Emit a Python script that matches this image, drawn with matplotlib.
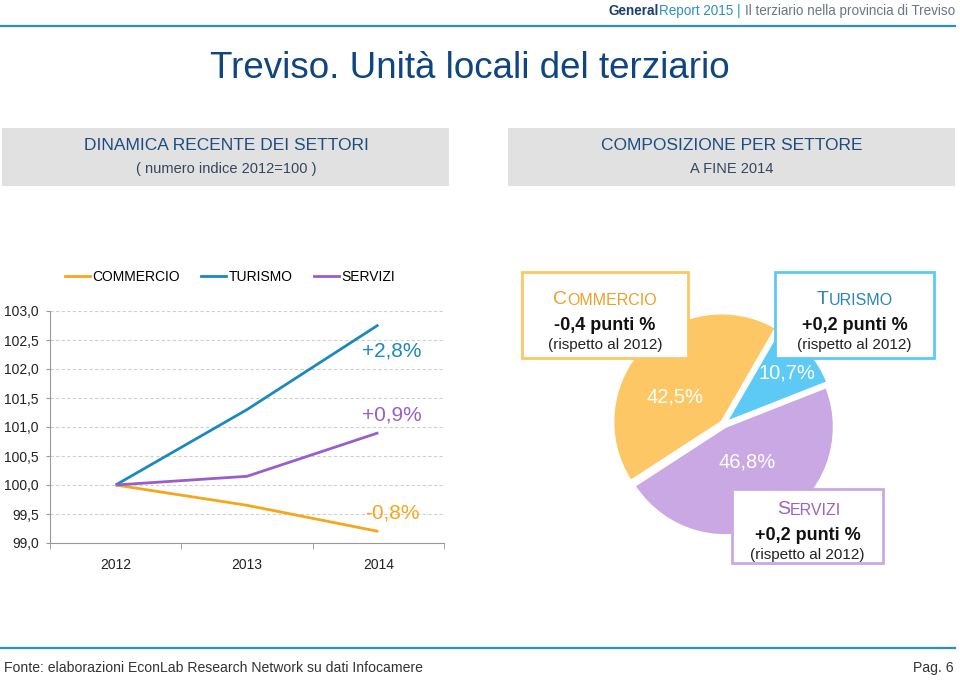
import matplotlib
matplotlib.use('Agg')
import matplotlib.pyplot as plt
from matplotlib import font_manager
from matplotlib.lines import Line2D
from matplotlib.patches import Rectangle

# --- data ---
years = ['2012', '2013', '2014']
commercio = [100.0, 99.65, 99.2]
turismo = [100.0, 101.3, 102.76]
servizi = [100.0, 100.15, 100.9]
y_ticks = [99.0, 99.5, 100.0, 100.5, 101.0, 101.5, 102.0, 102.5, 103.0]

settori = ['COMMERCIO', 'TURISMO', 'SERVIZI']
quote_2014 = [42.5, 10.7, 46.8]
delta_punti = ['-0,4', '+0,2', '+0,2']

# colours
c_line = {'COMMERCIO': '#f4a71d', 'TURISMO': '#1b89bf', 'SERVIZI': '#9a5ec8'}
c_pie = {'COMMERCIO': '#fdc765', 'TURISMO': '#5ccaf5', 'SERVIZI': '#c9a8e3'}
c_title = {'COMMERCIO': '#e9a227', 'TURISMO': '#2a86b5', 'SERVIZI': '#9a63c2'}
navy = '#0f4580'

plt.rcParams['font.family'] = 'Liberation Sans'
names = {f.name for f in font_manager.fontManager.ttflist}
if 'Liberation Sans Narrow' in names:
    narrow, nscale = 'Liberation Sans Narrow', 1.0
else:
    narrow, nscale = 'Liberation Sans', 0.93

W, H = 960, 681
fig = plt.figure(figsize=(W / 100, H / 100), dpi=100)

# overlay in pixel coordinates (for header, boxes, callouts)
ov = fig.add_axes([0, 0, 1, 1], zorder=5)
ov.set_xlim(0, W)
ov.set_ylim(H, 0)
ov.axis('off')
ov.patch.set_alpha(0)

# header
ov.plot([0, 955], [26, 26], color='#2b8fc0', lw=1.6)
t = ov.text(955, 11, 'Il terziario nella provincia di Treviso', ha='right', va='center',
            fontsize=10.5 * nscale, family=narrow, color='#6b7785')
t = ov.annotate('| ', xy=(0, 0), xycoords=t, ha='right', va='bottom',
                fontsize=10.5 * nscale, family=narrow, color='#2b8fc0')
t = ov.annotate('Report 2015 ', xy=(0, 0), xycoords=t, ha='right', va='bottom',
                fontsize=10.5 * nscale, family=narrow, color='#2b8fc0')
ov.annotate('General', xy=(0, 0), xycoords=t, ha='right', va='bottom',
            fontsize=10.5 * nscale, family=narrow, color='#1a3f6e', fontweight='bold')

ov.text(470, 69, 'Treviso. Unità locali del terziario', ha='center', va='center',
        fontsize=26.5, color=navy)

# grey headers
for x0, t1, t2 in [(2, 'DINAMICA RECENTE DEI SETTORI', '( numero indice 2012=100 )'),
                   (508, 'COMPOSIZIONE PER SETTORE', 'A FINE 2014')]:
    ov.add_patch(Rectangle((x0, 128), 447, 58, facecolor='#e1e1e1', edgecolor='none'))
    ov.text(x0 + 224, 145, t1, ha='center', va='center', fontsize=12.5, color='#1c4d80')
    ov.text(x0 + 224, 169, t2, ha='center', va='center', fontsize=10.5, color='#34465e')

# footer
ov.plot([0, 955], [648, 648], color='#2b8fc0', lw=1.6)
ov.text(4, 668, 'Fonte: elaborazioni EconLab Research Network su dati Infocamere',
        ha='left', va='center', fontsize=10.85 * nscale, family=narrow, color='#333333')
ov.text(954, 668, 'Pag. 6', ha='right', va='center', fontsize=10.85 * nscale,
        family=narrow, color='#333333')

# --- line chart ---
ax = fig.add_axes([50 / W, 1 - 543 / H, 394 / W, 232 / H])
x = list(range(len(years)))
series = {'COMMERCIO': commercio, 'TURISMO': turismo, 'SERVIZI': servizi}
for name, vals in series.items():
    ax.plot(x, vals, color=c_line[name], lw=2, solid_capstyle='butt', zorder=3)
    var = (vals[-1] / vals[0] - 1) * 100
    lab = f'{var:+.1f}%'.replace('.', ',')
    dy = -19 if name == 'TURISMO' else 13
    ax.annotate(lab, xy=(x[-1], vals[-1]), xytext=(10, dy), textcoords='offset points',
                ha='center', va='center', fontsize=15, color=c_line[name])

ax.set_xlim(-0.5, len(years) - 0.5)
ax.set_ylim(99, 103)
ax.set_yticks(y_ticks)
ax.set_yticklabels([f'{v:.1f}'.replace('.', ',') for v in y_ticks])
ax.set_xticks(x)
ax.set_xticklabels(years)
ax.set_xticks([i - 0.5 for i in range(len(years) + 1)], minor=True)
ax.tick_params(axis='x', which='major', length=0, pad=11, labelsize=10, colors='#222222')
ax.tick_params(axis='x', which='minor', length=4, color='#999999')
ax.tick_params(axis='y', length=3, color='#999999', labelsize=10, labelcolor='#222222', pad=5)
ax.grid(axis='y', color='#d0d0d0', ls=(0, (3, 2)), lw=0.8)
for s in ['top', 'right']:
    ax.spines[s].set_visible(False)
ax.spines['left'].set_color('#999999')
ax.spines['bottom'].set_color('#999999')
ax.patch.set_alpha(0)

handles = [Line2D([], [], color=c_line[n], lw=2) for n in settori]
ax.legend(handles, settori, ncol=3, loc='center', bbox_to_anchor=(230 / W, 1 - 277 / H),
          bbox_transform=fig.transFigure, frameon=False, fontsize=10,
          handlelength=1.8, handletextpad=0.2, columnspacing=1.5)

# --- pie ---
pa = fig.add_axes([(724 - 130) / W, 1 - (424 + 130) / H, 260 / W, 260 / H])
wedges, texts, autotexts = pa.pie(
    quote_2014, colors=[c_pie[n] for n in settori], startangle=213, counterclock=False,
    explode=[0.03, 0.03, 0.03], autopct=lambda p: f'{p:.1f}%'.replace('.', ','),
    wedgeprops=dict(edgecolor='white', linewidth=1.5),
    textprops=dict(color='white', fontsize=14.5))
pa.set_xlim(-1.2, 1.2)
pa.set_ylim(-1.2, 1.2)
for txt, pos in zip(autotexts, [(-0.45, 0.25), (0.58, 0.47), (0.21, -0.35)]):
    txt.set_position(pos)

# callout boxes
boxes = {
    'COMMERCIO': (522, 272, 166, 86, 553, 304),
    'TURISMO': (775, 272, 159, 86, 817, 304),
    'SERVIZI': (732, 489, 151, 74, 777, 514),
}
for name, d in zip(settori, delta_punti):
    bx, by, bw, bh, tx, ty = boxes[name]
    ov.add_patch(Rectangle((bx, by), bw, bh, facecolor='white',
                           edgecolor=c_pie[name], lw=2))
    first = ov.text(tx, ty, name[0], ha='left', va='baseline', fontsize=14,
                    color=c_title[name])
    ov.annotate(name[1:], xy=(1, 0), xycoords=first, ha='left', va='bottom',
                fontsize=11.5, color=c_title[name])
    cx = bx + bw / 2
    ov.text(cx, ty + 22, f'{d} punti %', ha='center', va='center', fontsize=13,
            fontweight='bold', color='#111111')
    ov.text(cx, ty + 41, '(rispetto al 2012)', ha='center', va='center', fontsize=11,
            color='#222222')

fig.savefig('out.png', dpi=100)
